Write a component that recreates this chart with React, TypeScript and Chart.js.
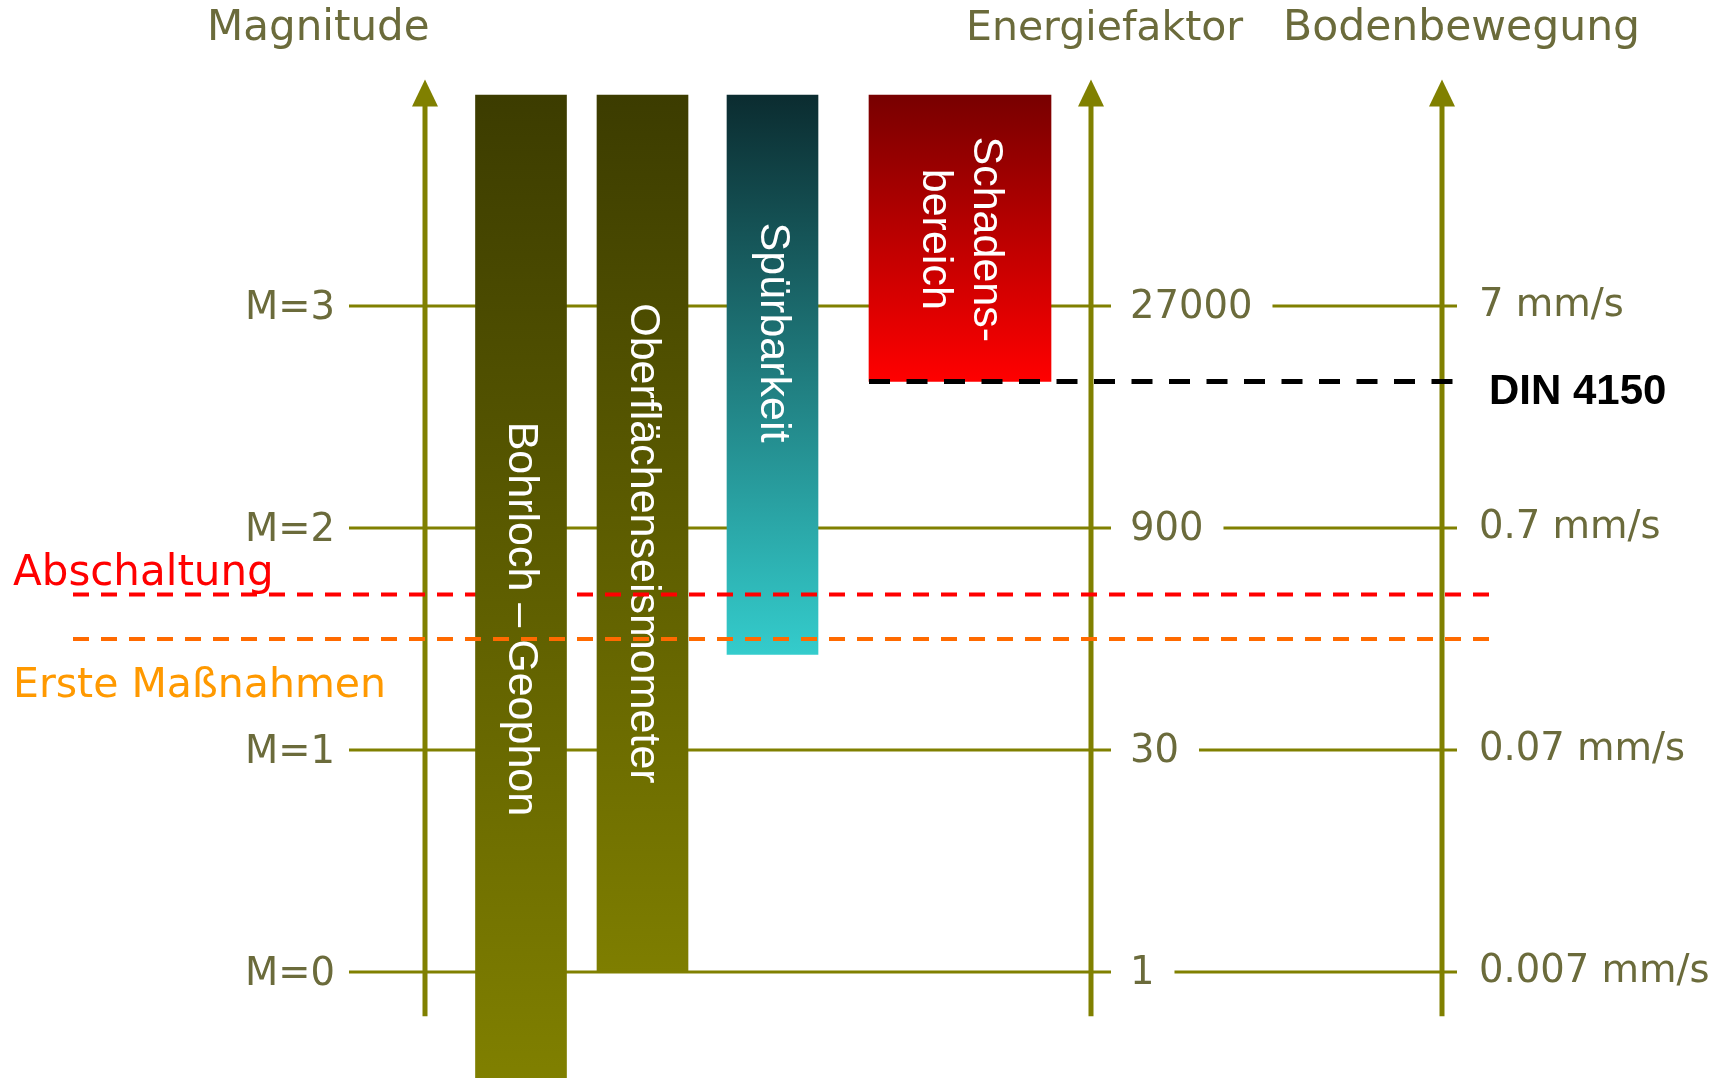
import { useEffect, useRef } from 'react';
import { Chart, registerables } from 'chart.js';

Chart.register(...registerables);

// ---------------- data ----------------
const instruments = ['Bohrloch – Geophon', 'Oberflächenseismometer', 'Spürbarkeit', 'Schadens-\nbereich'];
const rangeLow = [-0.5, 0, 1.43, 2.66];
const rangeHigh = [3.95, 3.95, 3.95, 3.95];
const magnitudeTicks = [0, 1, 2, 3];
const magnitudeLabels = ['M=0', 'M=1', 'M=2', 'M=3'];
const energyLabels = ['1', '30', '900', '27000'];
const groundMotionLabels = ['0.007 mm/s', '0.07 mm/s', '0.7 mm/s', '7 mm/s'];
const thresholdNames = ['Abschaltung', 'Erste Maßnahmen'];
const thresholdValues = [1.7, 1.5];
const dinLabel = 'DIN 4150';
const dinValue = 2.66;
const axisTitles = ['Magnitude', 'Energiefaktor', 'Bodenbewegung'];

// ---------------- layout / style ----------------
const W = 1731;
const H = 1078;
const Y_MIN = -0.478;
const Y_MAX = 4.378;
const COLUMN_X = [521, 642.5, 772.5, 960];
const BAR_WIDTH = [91, 91, 91, 182];
const LABEL_AT = [1.59, 1.93, 2.88, 3.3];
const GRADIENTS = [
  ['#3c3c00', '#808000'],
  ['#3c3c00', '#7e7e00'],
  ['#0b2c30', '#34cccc'],
  ['#780000', '#ff0000'],
];
const AXIS_X = [425, 1091, 1442];
const AXIS_FROM = -0.2;
const AXIS_TO = 4.02;
const OLIVE = '#808000';
const TEXT = '#6b6b3b';
const THRESHOLD_COLORS = ['#ff0000', '#ff6a00'];
const THRESHOLD_TEXT_COLORS = ['#ff0000', '#ff9900'];
const GEO = '"DejaVu Sans", "Noto Sans", sans-serif';
const SANS = '"Liberation Sans", Arial, sans-serif';

function gradientFor(i: number) {
  return (c: any) => {
    const chart = c.chart;
    const ys = chart.scales && chart.scales.y;
    if (!chart.chartArea || !ys) return GRADIENTS[i][1];
    const top = ys.getPixelForValue(rangeHigh[i]);
    const bot = ys.getPixelForValue(rangeLow[i]);
    const g = chart.ctx.createLinearGradient(0, top, 0, bot);
    g.addColorStop(0, GRADIENTS[i][0]);
    g.addColorStop(1, GRADIENTS[i][1]);
    return g;
  };
}

function drawThreshold(chart: any, k: number) {
  const ctx = chart.ctx;
  const py = chart.scales.y.getPixelForValue(thresholdValues[k]);
  ctx.save();
  ctx.strokeStyle = THRESHOLD_COLORS[k];
  ctx.lineWidth = 4;
  ctx.setLineDash([16, 12]);
  ctx.beginPath();
  ctx.moveTo(73, py);
  ctx.lineTo(1490, py);
  ctx.stroke();
  ctx.restore();
}

function drawBarLabel(chart: any, i: number) {
  const ctx = chart.ctx;
  const cx = chart.scales.x.getPixelForValue(COLUMN_X[i]);
  const cy = chart.scales.y.getPixelForValue(LABEL_AT[i]);
  const lines = instruments[i].split('\n');
  ctx.save();
  ctx.translate(cx, cy);
  ctx.rotate(Math.PI / 2);
  ctx.fillStyle = '#ffffff';
  ctx.font = `43px ${SANS}`;
  ctx.textAlign = 'center';
  ctx.textBaseline = 'middle';
  const n = lines.length;
  lines.forEach((ln, k) => ctx.fillText(ln, 0, (k - (n - 1) / 2) * 51));
  ctx.restore();
}

const diagramPlugin = {
  id: 'diagram',
  beforeDatasetsDraw(chart: any) {
    const ctx = chart.ctx;
    const ys = chart.scales.y;
    const xs = chart.scales.x;
    ctx.save();
    // titles
    ctx.fillStyle = TEXT;
    ctx.font = `42px ${GEO}`;
    ctx.textBaseline = 'alphabetic';
    ctx.textAlign = 'left';
    ctx.fillText(axisTitles[0], 207, 40);
    ctx.font = `41px ${GEO}`;
    ctx.fillText(axisTitles[1], 966, 40);
    ctx.font = `42.5px ${GEO}`;
    ctx.fillText(axisTitles[2], 1283, 40);

    // horizontal magnitude lines + tick labels
    ctx.font = `38.5px ${GEO}`;
    magnitudeTicks.forEach((m, i) => {
      const py = ys.getPixelForValue(m);
      const eW = ctx.measureText(energyLabels[i]).width;
      ctx.strokeStyle = OLIVE;
      ctx.lineWidth = 3;
      ctx.setLineDash([]);
      ctx.beginPath();
      ctx.moveTo(349, py);
      ctx.lineTo(1111, py);
      ctx.moveTo(1130 + eW + 20, py);
      ctx.lineTo(1457, py);
      ctx.stroke();
      ctx.fillStyle = TEXT;
      ctx.textBaseline = 'middle';
      ctx.textAlign = 'right';
      ctx.fillText(magnitudeLabels[i], 335, py + 3);
      ctx.textAlign = 'left';
      ctx.fillText(energyLabels[i], 1130, py + 2);
      ctx.fillText(groundMotionLabels[i], 1479, py);
    });

    // vertical axes with arrows
    AXIS_X.forEach((ax) => {
      const px = xs.getPixelForValue(ax);
      const yb = ys.getPixelForValue(AXIS_FROM);
      const yt = ys.getPixelForValue(AXIS_TO);
      ctx.strokeStyle = OLIVE;
      ctx.lineWidth = 5;
      ctx.beginPath();
      ctx.moveTo(px, yb);
      ctx.lineTo(px, yt + 20);
      ctx.stroke();
      ctx.fillStyle = OLIVE;
      ctx.beginPath();
      ctx.moveTo(px, yt);
      ctx.lineTo(px - 13, yt + 27);
      ctx.lineTo(px + 13, yt + 27);
      ctx.closePath();
      ctx.fill();
    });
    ctx.restore();
  },
  afterDatasetDraw(chart: any, args: any) {
    const i = args.index;
    drawBarLabel(chart, i);
    if (i === 1) drawThreshold(chart, 0);
  },
  afterDatasetsDraw(chart: any) {
    const ctx = chart.ctx;
    const ys = chart.scales.y;
    drawThreshold(chart, 1);
    // DIN line
    const pd = ys.getPixelForValue(dinValue);
    ctx.save();
    ctx.strokeStyle = '#000000';
    ctx.lineWidth = 5;
    ctx.setLineDash([21, 16.5]);
    ctx.beginPath();
    ctx.moveTo(869, pd);
    ctx.lineTo(1468, pd);
    ctx.stroke();
    ctx.setLineDash([]);
    ctx.fillStyle = '#000000';
    ctx.font = `bold 42px ${SANS}`;
    ctx.textAlign = 'left';
    ctx.textBaseline = 'alphabetic';
    ctx.fillText(dinLabel, 1489, 404);
    // threshold labels
    ctx.font = `42px ${GEO}`;
    ctx.fillStyle = THRESHOLD_TEXT_COLORS[0];
    ctx.fillText(thresholdNames[0], 13, 585);
    ctx.font = `41px ${GEO}`;
    ctx.fillStyle = THRESHOLD_TEXT_COLORS[1];
    ctx.fillText(thresholdNames[1], 13, 697);
    ctx.restore();
  },
};

export default function App() {
  const ref = useRef<HTMLCanvasElement | null>(null);
  useEffect(() => {
    if (!ref.current) return;
    const chart = new Chart(ref.current, {
      type: 'bar',
      data: {
        datasets: instruments.map((name, i) => ({
          label: name,
          data: [{ x: COLUMN_X[i], y: [rangeLow[i], rangeHigh[i]] }],
          barThickness: BAR_WIDTH[i],
          grouped: false,
          borderWidth: 0,
          borderSkipped: false,
          backgroundColor: gradientFor(i),
        })) as any,
      },
      options: {
        responsive: false,
        animation: false,
        devicePixelRatio: 1,
        layout: { padding: 0 },
        scales: {
          x: { type: 'linear', display: false, min: 0, max: W, offset: false },
          y: { type: 'linear', display: false, min: Y_MIN, max: Y_MAX },
        },
        plugins: { legend: { display: false }, tooltip: { enabled: false } },
      } as any,
      plugins: [diagramPlugin],
    });
    return () => chart.destroy();
  }, []);
  return (
    <div style={{ position: 'fixed', left: 0, top: 0, width: W, height: H, background: '#fff' }}>
      <canvas ref={ref} width={W} height={H} style={{ display: 'block', width: W, height: H }} />
    </div>
  );
}
